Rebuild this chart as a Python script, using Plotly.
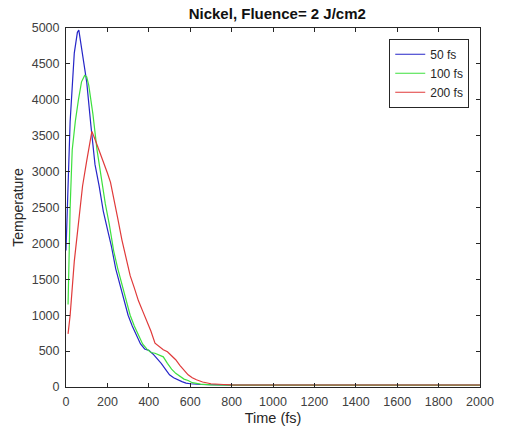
import plotly.graph_objects as go

t_50 = [0, 20, 40, 55, 62, 70, 85, 100, 120, 140, 160, 180, 200, 220, 240, 260, 280, 300, 320, 340, 360, 380, 400, 420, 440, 460, 480, 500, 520, 540, 560, 580, 600, 650, 700, 800, 1000, 1200, 1400, 1600, 1800, 2000]
T_50 = [1900, 3700, 4650, 4940, 4970, 4820, 4550, 4250, 3650, 3100, 2800, 2450, 2200, 1950, 1650, 1430, 1200, 1000, 850, 720, 600, 530, 510, 460, 400, 330, 250, 170, 130, 100, 75, 55, 45, 35, 30, 25, 25, 25, 25, 25, 25, 25]

t_100 = [10, 20, 30, 45, 60, 75, 90, 100, 110, 120, 130, 150, 170, 190, 210, 230, 250, 270, 290, 310, 330, 350, 370, 390, 410, 430, 450, 470, 490, 510, 530, 550, 570, 590, 610, 650, 700, 800, 1000, 1200, 1400, 1600, 1800, 2000]
T_100 = [1150, 2500, 3300, 3700, 4000, 4250, 4340, 4320, 4200, 4000, 3800, 3300, 2900, 2550, 2250, 1900, 1650, 1430, 1200, 1000, 850, 720, 600, 530, 480, 470, 450, 420, 330, 250, 190, 150, 110, 90, 60, 40, 30, 25, 25, 25, 25, 25, 25, 25]

t_200 = [10, 20, 40, 60, 80, 100, 115, 125, 140, 160, 180, 200, 215, 230, 250, 270, 290, 310, 330, 350, 370, 390, 410, 430, 450, 470, 490, 510, 530, 550, 570, 590, 610, 630, 660, 700, 760, 800, 1000, 1200, 1400, 1600, 1800, 2000]
T_200 = [740, 1000, 1750, 2300, 2800, 3150, 3400, 3560, 3450, 3300, 3150, 2980, 2850, 2650, 2350, 2050, 1780, 1550, 1380, 1200, 1060, 920, 780, 610, 560, 520, 490, 440, 380, 300, 240, 170, 130, 100, 70, 45, 35, 30, 28, 28, 28, 28, 28, 28]

x_ticks = list(range(0, 2001, 200))
y_ticks = list(range(0, 5001, 500))

fig = go.Figure()
fig.add_trace(go.Scatter(x=t_50, y=T_50, mode="lines", name="50 fs",
                         line=dict(color="#2626c8", width=1.2)))
fig.add_trace(go.Scatter(x=t_100, y=T_100, mode="lines", name="100 fs",
                         line=dict(color="#3ee03e", width=1.2)))
fig.add_trace(go.Scatter(x=t_200, y=T_200, mode="lines", name="200 fs",
                         line=dict(color="#e03a3a", width=1.2)))

axis_common = dict(showgrid=False, zeroline=False, showline=True, mirror="ticks",
                   linecolor="#262626", linewidth=1, ticks="inside", ticklen=4,
                   tickcolor="#262626", ticklabelstandoff=3,
                   tickfont=dict(family="Liberation Sans", size=12.5, color="#404040"))

fig.update_layout(
    width=506, height=436,
    margin=dict(l=66, r=17, t=28, b=49),
    paper_bgcolor="white", plot_bgcolor="white",
    title=dict(text="<b>Nickel, Fluence= 2 J/cm2</b>", x=0.548, xanchor="center",
               y=0.968, yanchor="middle",
               font=dict(family="Liberation Sans", size=15, color="#111111")),
    xaxis=dict(range=[0, 2000], tickvals=x_ticks,
               title=dict(text="Time (fs)", font=dict(family="Liberation Sans", size=14.5, color="#262626"), standoff=4),
               **axis_common),
    yaxis=dict(range=[0, 5000], tickvals=y_ticks,
               title=dict(text="Temperature", font=dict(family="Liberation Sans", size=14, color="#262626"), standoff=4),
               **axis_common),
    legend=dict(x=0.974, y=0.97, xanchor="right", yanchor="top",
                bordercolor="#262626", borderwidth=1, bgcolor="white",
                font=dict(family="Liberation Sans", size=12, color="#262626"),
                tracegroupgap=0, itemwidth=30),
    showlegend=True,
)

fig.write_html("out.html")
